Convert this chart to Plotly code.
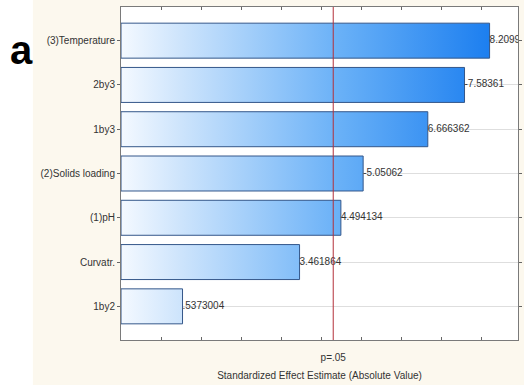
import plotly.graph_objects as go

# Pareto chart of standardized effects
effects = ["(3)Temperature", "2by3", "1by3", "(2)Solids loading", "(1)pH", "Curvatr.", "1by2"]
estimates = [8.209915, -7.58361, 6.666362, -5.05062, 4.494134, 3.461864, 0.5373004]
value_labels = ["8.209915", "-7.58361", "6.666362", "-5.05062", "4.494134", "3.461864", ".5373004"]
p_critical = 4.303          # t(0.975, df=2)
p_label = "p=.05"
x_title = "Standardized Effect Estimate (Absolute Value)"

X_MIN, X_MAX = -1.0, 8.92
HALF = 0.395
FONT = "Liberation Sans, Arial, sans-serif"
GRADIENT = [[0.0, "#f4f9ff"], [0.15, "#cde4fc"], [0.55, "#68b0f7"], [1.0, "#0c74ee"]]

W, H = 524, 385
L, R, T, B = 121, 2, 7, 45
plot_w = W - L - R
plot_h = H - T - B

fig = go.Figure()

n = len(effects)
positions = list(range(n - 1, -1, -1))

for name, est, y in zip(effects, estimates, positions):
    w = abs(est)
    fig.add_trace(go.Scatter(
        x=[X_MIN, w, w, X_MIN, X_MIN],
        y=[y - HALF, y - HALF, y + HALF, y + HALF, y - HALF],
        mode="lines",
        fill="toself",
        fillgradient=dict(type="horizontal", colorscale=GRADIENT, start=X_MIN, stop=X_MAX),
        line=dict(color="#34578a", width=1),
        hoverinfo="skip",
        showlegend=False,
        name=name,
    ))

# value labels at the end of each bar
fig.add_trace(go.Scatter(
    x=[abs(v) for v in estimates],
    y=positions,
    mode="text",
    text=value_labels,
    textposition="middle right",
    textfont=dict(family=FONT, size=10, color="#333333"),
    cliponaxis=True,
    hoverinfo="skip",
    showlegend=False,
))

# invisible trace carrying the tick-mark axis
fig.add_trace(go.Scatter(x=[X_MIN], y=[0], xaxis="x2", mode="markers",
                         marker=dict(opacity=0), hoverinfo="skip", showlegend=False))

# significance line
fig.add_shape(type="line", xref="x", yref="paper", x0=p_critical, x1=p_critical, y0=0, y1=1,
              line=dict(color="#b3303a", width=1))

# white strip at the far left of the panel
fig.add_shape(type="rect", xref="paper", yref="paper",
              x0=(0 - L) / plot_w - 0.05, x1=(32 - L) / plot_w,
              y0=-0.5, y1=1.5, fillcolor="white", line=dict(width=0), layer="below")

fig.add_annotation(text="<b>a</b>", xref="paper", yref="paper",
                   x=(21 - L) / plot_w, y=(H - B - 50) / plot_h,
                   xanchor="center", yanchor="middle", showarrow=False,
                   font=dict(family=FONT, size=40, color="black"))

fig.update_layout(
    width=W, height=H,
    margin=dict(l=L, r=R, t=T, b=B),
    paper_bgcolor="#fcf8ee",
    plot_bgcolor="white",
    font=dict(family=FONT, size=10, color="#333333"),
    xaxis=dict(
        range=[X_MIN, X_MAX],
        tickmode="array", tickvals=[p_critical], ticktext=[p_label],
        ticks="", showgrid=False, zeroline=False,
        showline=True, linecolor="#7a7a7a", linewidth=1, mirror=True,
        ticklabelstandoff=8,
        tickfont=dict(size=10, color="#333333"),
        title=dict(text=x_title, font=dict(size=10, color="#333333"), standoff=9),
    ),
    xaxis2=dict(
        overlaying="x", range=[X_MIN, X_MAX], side="bottom",
        tickmode="linear", tick0=0, dtick=1,
        ticks="inside", ticklen=3, tickcolor="#666666",
        showticklabels=False, showgrid=False, zeroline=False,
        showline=False, mirror="ticks",
    ),
    yaxis=dict(
        range=[-0.76, n - 1 + 0.76],
        tickmode="array", tickvals=positions, ticktext=effects,
        ticks="outside", ticklen=3, tickcolor="#666666",
        showgrid=True, gridcolor="#dedede", gridwidth=1, zeroline=False,
        showline=True, linecolor="#7a7a7a", linewidth=1, mirror="ticks",
        tickfont=dict(size=10, color="#333333"),
    ),
)

fig.write_html("out.html")
